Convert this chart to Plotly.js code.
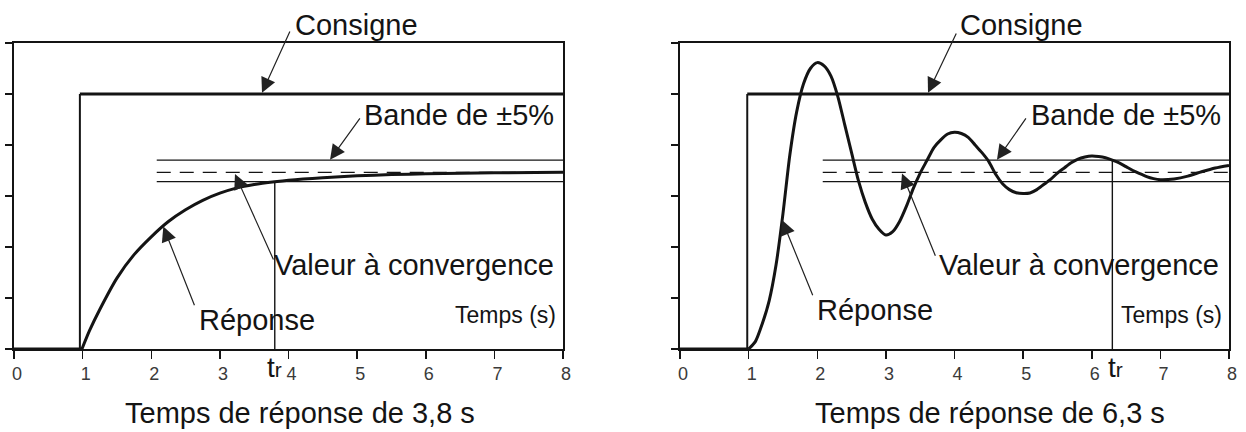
<!DOCTYPE html>
<html>
<head>
<meta charset="utf-8">
<script src="https://cdn.plot.ly/plotly-3.0.1.min.js"></script>
<style>
  html, body { margin: 0; padding: 0; background: #ffffff; }
  #chart { width: 1246px; height: 432px; }
</style>
</head>
<body>
<div id="chart"></div>
<script>
// ---------- data ----------
const xTickValues = [0, 1, 2, 3, 4, 5, 6, 7, 8];
const xTickLabels = ['0', '1', '2', '3', '4', '5', '6', '7', '8'];
const yTickValues = [0, 0.2, 0.4, 0.6, 0.8, 1.0, 1.2];

// setpoint (Consigne) step
const setpointTimeLeft = [0, 0.96, 0.96, 8];
const setpointTimeRight = [0, 0.98, 0.98, 8];
const setpointValue = [0, 0, 1, 1];

// left: first-order response
const responseTimeLeft = [0, 0.99, 1.1, 1.25, 1.5, 1.75, 2.0, 2.25, 2.5, 2.75, 3.0, 3.25, 3.5, 3.8, 4.0, 4.5, 5.0, 5.5, 6.0, 7.0, 8.0];
const responseValueLeft = [0, 0, 0.072, 0.155, 0.278, 0.37, 0.44, 0.50, 0.546, 0.583, 0.611, 0.632, 0.645, 0.656, 0.662, 0.672, 0.679, 0.684, 0.687, 0.691, 0.693];

// right: oscillating response
const responseTimeRight = [0, 1.0, 1.1, 1.2, 1.3, 1.4, 1.5, 1.6, 1.7, 1.8, 1.9, 2.0, 2.1, 2.2, 2.3, 2.4, 2.5, 2.6, 2.7, 2.8, 2.9, 3.0,
  3.1, 3.2, 3.3, 3.4, 3.5, 3.6, 3.7, 3.8, 3.9, 4.0, 4.1, 4.2, 4.3, 4.4, 4.5, 4.6, 4.7, 4.8, 4.9, 5.0,
  5.1, 5.2, 5.3, 5.4, 5.5, 5.6, 5.7, 5.8, 5.9, 6.0, 6.1, 6.2, 6.3, 6.4, 6.5, 6.6, 6.7, 6.8, 6.9, 7.0,
  7.2, 7.4, 7.6, 7.8, 8.0];
const responseValueRight = [0, 0, 0.03, 0.10, 0.19, 0.33, 0.53, 0.76, 0.93, 1.04, 1.10, 1.123, 1.11, 1.07, 0.99, 0.88, 0.77, 0.66, 0.575, 0.51, 0.47, 0.447,
  0.46, 0.50, 0.56, 0.63, 0.69, 0.74, 0.79, 0.82, 0.843, 0.85, 0.845, 0.83, 0.80, 0.77, 0.735, 0.685, 0.648, 0.625, 0.613, 0.61,
  0.612, 0.625, 0.645, 0.665, 0.69, 0.71, 0.73, 0.745, 0.753, 0.757, 0.755, 0.75, 0.741, 0.73, 0.715, 0.70, 0.688, 0.676, 0.668, 0.664,
  0.667, 0.678, 0.695, 0.71, 0.72];

// ±5% band around the convergence value
const bandTime = [2.08, 8.12];
const bandUpper = [0.741, 0.741];
const bandCenter = [0.693, 0.693];
const bandLower = [0.656, 0.656];

// response times (tr) and the level where their markers start
const riseTimes = [3.8, 6.3];
const riseMarkerTop = [0.656, 0.741];

const panelTitles = ['Temps de réponse de 3,8 s', 'Temps de réponse de 6,3 s'];
const labelSetpoint = 'Consigne';
const labelBand = 'Bande de ±5%';
const labelConvergence = 'Valeur à convergence';
const labelResponse = 'Réponse';
const labelTime = 'Temps (s)';

// ---------- styling ----------
const INK = '#141414';
const FONT = '"Liberation Sans", Arial, Helvetica, sans-serif';

function responseTraces(xa, ya, t, v) {
  // flat part before the response starts, then the smooth curve
  let start = 0;
  while (start < v.length - 1 && v[start + 1] === 0) start++;
  return [
    {x: t.slice(0, start + 1), y: v.slice(0, start + 1), xaxis: xa, yaxis: ya, mode: 'lines',
     line: {color: INK, width: 3}, hoverinfo: 'skip'},
    {x: t.slice(start), y: v.slice(start), xaxis: xa, yaxis: ya, mode: 'lines',
     line: {color: INK, width: 3, shape: 'spline', smoothing: 0.7}, hoverinfo: 'skip'}
  ];
}

function panelTraces(xa, ya, setT, respT, respV, tr, trTop) {
  return [
    {x: setT.slice(1, 3), y: setpointValue.slice(1, 3), xaxis: xa, yaxis: ya, mode: 'lines',
     line: {color: INK, width: 2}, hoverinfo: 'skip'},
    {x: setT.slice(2), y: setpointValue.slice(2), xaxis: xa, yaxis: ya, mode: 'lines',
     line: {color: INK, width: 2.8}, hoverinfo: 'skip'},
    {x: bandTime, y: bandUpper, xaxis: xa, yaxis: ya, mode: 'lines',
     line: {color: INK, width: 1.3}, hoverinfo: 'skip'},
    {x: bandTime, y: bandLower, xaxis: xa, yaxis: ya, mode: 'lines',
     line: {color: INK, width: 1.3}, hoverinfo: 'skip'},
    {x: bandTime, y: bandCenter, xaxis: xa, yaxis: ya, mode: 'lines',
     line: {color: INK, width: 1.3, dash: '14px,9px'}, hoverinfo: 'skip'},
    {x: [tr, tr], y: [trTop, 0], xaxis: xa, yaxis: ya, mode: 'lines',
     line: {color: INK, width: 1.4}, hoverinfo: 'skip'}
  ].concat(responseTraces(xa, ya, respT, respV));
}

const data = [].concat(
  panelTraces('x', 'y', setpointTimeLeft, responseTimeLeft, responseValueLeft, riseTimes[0], riseMarkerTop[0]),
  panelTraces('x2', 'y2', setpointTimeRight, responseTimeRight, responseValueRight, riseTimes[1], riseMarkerTop[1])
);

function xAxis(domain) {
  return {
    domain: domain, range: [0, 8], showgrid: false, zeroline: false,
    tickmode: 'array', tickvals: xTickValues, ticktext: xTickLabels,
    ticks: 'outside', ticklen: 8, tickwidth: 1.5, tickcolor: INK,
    showline: true, linecolor: INK, linewidth: 1.6, mirror: true,
    tickfont: {family: FONT, size: 18, color: '#3a3a3a'},
    ticklabelshift: 3, fixedrange: true
  };
}
function yAxis(domain, anchor) {
  return {
    domain: domain, range: [0, 1.2], anchor: anchor, showgrid: false, zeroline: false,
    tickmode: 'array', tickvals: yTickValues, showticklabels: false,
    ticks: 'outside', ticklen: 7, tickwidth: 1.5, tickcolor: INK,
    showline: true, linecolor: INK, linewidth: 1.6, mirror: true, fixedrange: true
  };
}

function arrow(xr, yr, hx, hy, tx, ty) {
  return {xref: xr, yref: yr, axref: xr, ayref: yr, x: hx, y: hy, ax: tx, ay: ty,
    text: '', showarrow: true, arrowhead: 2, arrowsize: 2.5, arrowwidth: 1.2,
    arrowcolor: '#222', standoff: 0, startstandoff: 0};
}
function label(xr, yr, x, y, text, size, xanchor) {
  return {xref: xr, yref: yr, x: x, y: y, text: text, showarrow: false,
    xanchor: xanchor || 'left', yanchor: 'middle',
    font: {family: FONT, size: size, color: INK}};
}
const trText = 't<span style="font-size:21px">r</span>';
const W = 1246, H = 432;
function px(xp) { return xp / W; }
function py(yp) { return 1 - yp / H; }

const annotations = [
  // left panel
  label('paper', 'paper', px(293), py(25), labelSetpoint, 29),
  arrow('x', 'y', 3.614, 1.005, 4.03, 1.251),
  label('x', 'y', 5.07, 0.918, labelBand, 29),
  arrow('x', 'y', 4.605, 0.742, 5.056, 0.91),
  label('x', 'y', 3.76, 0.329, labelConvergence, 29),
  arrow('x', 'y', 3.22, 0.686, 3.79, 0.345),
  label('x', 'y', 2.665, 0.114, labelResponse, 29),
  arrow('x', 'y', 2.176, 0.48, 2.638, 0.166),
  label('x', 'y', 7.93, 0.133, labelTime, 23, 'right'),
  label('paper', 'paper', px(274), py(367), trText, 28, 'center'),
  // right panel
  label('paper', 'paper', px(958), py(25), labelSetpoint, 29),
  arrow('x2', 'y2', 3.614, 1.005, 4.036, 1.243),
  label('x2', 'y2', 5.085, 0.918, labelBand, 29),
  arrow('x2', 'y2', 4.619, 0.742, 5.056, 0.91),
  label('x2', 'y2', 3.745, 0.329, labelConvergence, 29),
  arrow('x2', 'y2', 3.235, 0.688, 3.73, 0.36),
  label('x2', 'y2', 1.965, 0.153, labelResponse, 29),
  arrow('x2', 'y2', 1.486, 0.506, 1.943, 0.205),
  label('x2', 'y2', 7.93, 0.133, labelTime, 23, 'right'),
  label('paper', 'paper', px(1115), py(367), trText, 28, 'center'),
  // panel captions
  label('paper', 'paper', px(300), py(413), panelTitles[0], 29, 'center'),
  label('paper', 'paper', px(990), py(413), panelTitles[1], 29, 'center')
];

const yDomain = [1 - 349 / H, 1 - 43 / H];
const layout = {
  width: W, height: H,
  margin: {l: 0, r: 0, t: 0, b: 0},
  paper_bgcolor: '#ffffff', plot_bgcolor: '#ffffff',
  showlegend: false, hovermode: false,
  font: {family: FONT, color: INK},
  xaxis: Object.assign(xAxis([14 / W, 563 / W]), {anchor: 'y'}),
  yaxis: yAxis(yDomain, 'x'),
  xaxis2: Object.assign(xAxis([680 / W, 1229 / W]), {anchor: 'y2'}),
  yaxis2: yAxis(yDomain, 'x2'),
  annotations: annotations
};

Plotly.newPlot('chart', data, layout, {staticPlot: true, displayModeBar: false});
</script>
</body>
</html>
